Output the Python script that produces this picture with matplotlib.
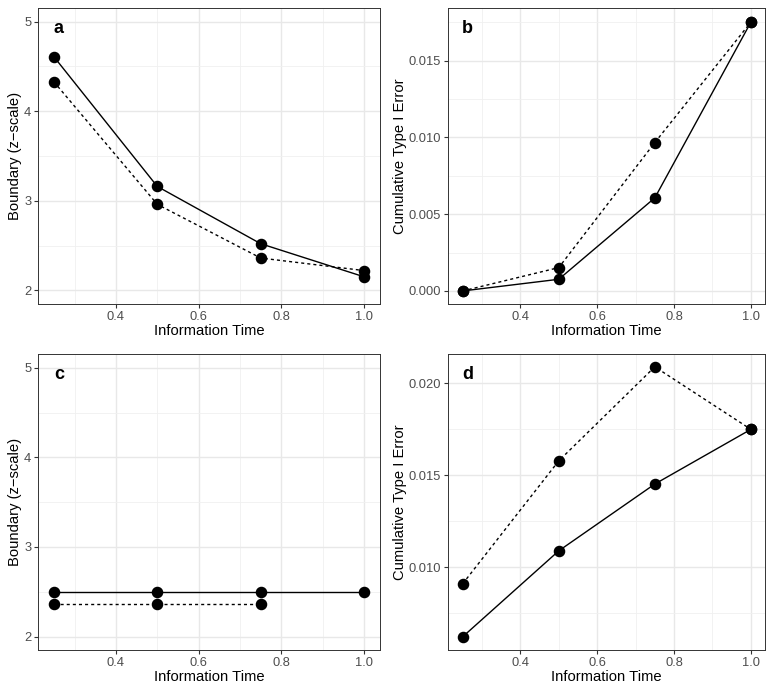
import matplotlib
matplotlib.use("Agg")
import matplotlib.pyplot as plt
from matplotlib.ticker import MultipleLocator, FormatStrFormatter

plt.rcParams['font.family'] = ['Liberation Sans', 'DejaVu Sans']

# values
info_time = [0.25, 0.5, 0.75, 1.0]
a_solid = [4.61, 3.16, 2.52, 2.15]
a_dotted = [4.33, 2.96, 2.36, 2.22]
b_solid = [0.0, 0.00076, 0.00606, 0.0175]
b_dotted = [0.0, 0.00152, 0.00966, 0.0175]
c_solid = [2.50, 2.50, 2.50, 2.50]
c_dotted = [2.36, 2.36, 2.36]
d_solid = [0.00623, 0.0109, 0.01453, 0.0175]
d_dotted = [0.00911, 0.01579, 0.0209, 0.0175]

W, H = 774, 693
fig = plt.figure(figsize=(W / 100, H / 100), dpi=100)


def make_axes(x0, x1, y0, y1):
    # pixel box -> figure fractions
    return fig.add_axes([x0 / W, 1 - y1 / H, (x1 - x0) / W, (y1 - y0) / H])


def style(ax, label, ylabel, ylim, major, minor, fmt):
    ax.set_xlim(0.2125, 1.0375)
    ax.set_ylim(*ylim)
    ax.xaxis.set_major_locator(MultipleLocator(0.2))
    ax.xaxis.set_minor_locator(MultipleLocator(0.1))
    ax.xaxis.set_major_formatter(FormatStrFormatter('%.1f'))
    ax.yaxis.set_major_locator(MultipleLocator(major))
    ax.yaxis.set_minor_locator(MultipleLocator(minor))
    ax.yaxis.set_major_formatter(FormatStrFormatter(fmt))
    ax.grid(which='major', color='#E8E8E8', lw=1.0, zorder=0)
    ax.grid(which='minor', color='#F0F0F0', lw=0.6, zorder=0)
    ax.set_axisbelow(True)
    ax.tick_params(which='major', length=3, width=0.8, color='#333333',
                   labelsize=9.3, labelcolor='#4D4D4D', pad=2)
    ax.tick_params(which='minor', length=0)
    for s in ax.spines.values():
        s.set_color('#333333')
        s.set_linewidth(0.7)
    ax.set_xlabel('Information Time', fontsize=10.6, labelpad=1.0)
    ax.set_ylabel(ylabel, fontsize=10.6, labelpad=1.2)
    ax.text(0.06, 0.93, label, transform=ax.transAxes, fontsize=13,
            fontweight='bold', ha='center', va='center')


def draw(ax, solid, dotted):
    ax.plot(info_time[:len(solid)], solid, color='black', lw=1.0,
            marker='o', ms=7.3, zorder=3)
    ax.plot(info_time[:len(dotted)], dotted, color='black', lw=1.0,
            ls=(0, (2.2, 2.2)), marker='o', ms=7.3, zorder=3)


ax_a = make_axes(38.3, 379.7, 8.3, 303.7)
ax_b = make_axes(448.3, 765.3, 8.3, 303.7)
ax_c = make_axes(38.3, 379.7, 354.3, 650)
ax_d = make_axes(448.3, 765.3, 354.3, 650)

draw(ax_a, a_solid, a_dotted)
style(ax_a, 'a', 'Boundary (z\u2212scale)', (1.85, 5.15), 1, 0.5, '%d')

draw(ax_b, b_solid, b_dotted)
style(ax_b, 'b', 'Cumulative Type I Error', (-0.00083, 0.0184), 0.005, 0.0025, '%.3f')

draw(ax_c, c_solid, c_dotted)
style(ax_c, 'c', 'Boundary (z\u2212scale)', (1.85, 5.15), 1, 0.5, '%d')

draw(ax_d, d_solid, d_dotted)
style(ax_d, 'd', 'Cumulative Type I Error', (0.00551, 0.02158), 0.005, 0.0025, '%.3f')

fig.savefig('out.png', dpi=100)
